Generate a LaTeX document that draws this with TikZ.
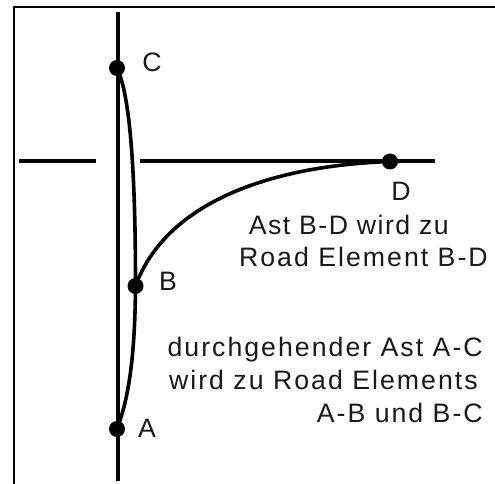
\documentclass[tikz,border=0pt]{standalone}
\usepackage{fontspec}
\setmainfont{Liberation Sans}
\tikzset{
  x=0.75pt,y=-0.75pt,
  road/.style={line width=3pt},
  branch/.style={line width=2.7pt},
  frameline/.style={line width=1.4pt},
  pt/.style={circle,fill=black,inner sep=0pt,minimum size=12pt},
  lab/.style={inner sep=0pt,font=\fontsize{20pt}{20pt}\selectfont,text=black!90},
  txt/.style={inner sep=0pt,anchor=base east,font=\fontsize{20pt}{24.4pt}\selectfont\addfontfeatures{LetterSpace=7.6},text=black!90},
  txtb/.style={txt,font=\fontsize{20pt}{24.4pt}\selectfont\addfontfeatures{LetterSpace=5.5}}
}
\begin{document}
\begin{tikzpicture}
\useasboundingbox (0,0) rectangle (495,484);
\coordinate (fa) at (14,484);
\coordinate (fb) at (14,7);
\coordinate (fc) at (495,7);
\draw[frameline] (fa) -- (fb) -- (fc);
\coordinate (v1) at (118,12);
\coordinate (v2) at (118,481);
\draw[road] (v1) -- (v2);
\coordinate (h1) at (19,161);
\coordinate (h2) at (96,161);
\coordinate (h3) at (140,161);
\coordinate (h4) at (435,161);
\draw[road] (h1) -- (h2);
\draw[road] (h3) -- (h4);
\node[pt] (C) at (117,68) {};
\node[pt] (A) at (117,429) {};
\node[pt] (B) at (135.5,286) {};
\node[pt] (D) at (390,161.5) {};
\draw[branch] (C.center) .. controls (130,95) and (135.5,170) .. (135.5,286)
  .. controls (135,350) and (130,395) .. (A.center);
\draw[branch] (B.center) .. controls (165,205) and (265,166) .. (D.center);
\node[lab] (lc) at (152,62) {C};
\node[lab] (lb) at (168,281) {B};
\node[lab] (la) at (147,428) {A};
\node[lab] (ld) at (401,191) {D};
\node[txtb] (t1) at (449,234) {Ast B-D wird zu};
\node[txt] (t2) at (488,267) {Road Element B-D};
\node[txt] (t3) at (483,356) {durchgehender Ast A-C};
\node[txt] (t4) at (478,389) {wird zu Road Elements};
\node[txt] (t5) at (483,422) {A-B und B-C};
\end{tikzpicture}
\end{document}
